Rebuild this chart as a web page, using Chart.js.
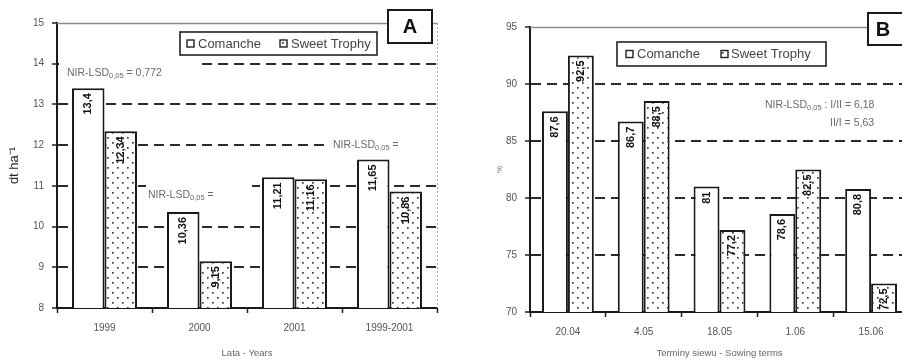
<!DOCTYPE html>
<html>
<head>
<meta charset="utf-8">
<script src="https://cdn.jsdelivr.net/npm/chart.js@4.4.0/dist/chart.umd.min.js"></script>
<style>
  html, body { margin: 0; padding: 0; background: #fff; width: 902px; height: 364px; overflow: hidden; }
  #ca { position: absolute; left: 0; top: 0; }
  #cb { position: absolute; left: 450px; top: 0; }
</style>
</head>
<body>
<canvas id="ca" width="450" height="364"></canvas>
<canvas id="cb" width="460" height="364"></canvas>
<script>
// Series names shared by both panels
const seriesNames = ['Comanche', 'Sweet Trophy'];

// Panel A: yield, dt ha-1, by year
const yearLabels = ['1999', '2000', '2001', '1999-2001'];
const comancheYield = [13.4, 10.36, 11.21, 11.65];
const sweetTrophyYield = [12.34, 9.15, 11.16, 10.86];
const yieldAxis = [8, 15, 1];            // min, max, step

// Panel B: percentage, by sowing term
const sowingLabels = ['20.04', '4.05', '18.05', '1.06', '15.06'];
const comanchePct = [87.6, 86.7, 81, 78.6, 80.8];
const sweetTrophyPct = [92.5, 88.5, 77.2, 82.5, 72.5];
const pctAxis = [70, 95, 5];             // min, max, step

const FONT = '"Liberation Sans", Arial, sans-serif';
Chart.defaults.font.family = FONT;

// Dotted fill for the second series
function dotPattern() {
  const c = document.createElement('canvas');
  c.width = 10; c.height = 10;
  const g = c.getContext('2d');
  g.fillStyle = '#fff';
  g.fillRect(0, 0, 10, 10);
  g.fillStyle = '#3a3a3a';
  g.fillRect(2, 2, 1.7, 1.7);
  g.fillRect(7, 7, 1.7, 1.7);
  return g.createPattern(c, 'repeat');
}

const fmt = v => String(v).replace('.', ',');

function drawNote(ctx, n) {
  let x = n.x;
  ctx.save();
  ctx.fillStyle = '#6a6a6a';
  ctx.textBaseline = 'middle';
  ctx.textAlign = 'left';
  n.parts.forEach(([t, kind]) => {
    if (kind === 's') {
      ctx.font = '7.5px ' + FONT;
      ctx.fillText(t, x, n.y + 3);
    } else {
      ctx.font = '10.5px ' + FONT;
      ctx.fillText(t, x, n.y);
    }
    x += ctx.measureText(t).width;
  });
  ctx.restore();
}

function makeDeco(d) {
  return {
    id: 'panelDeco',
    beforeDatasetsDraw(chart) {
      const ctx = chart.ctx;
      ctx.save();
      ctx.fillStyle = '#fff';
      d.masks.forEach(m => ctx.fillRect(m[0], m[1], m[2], m[3]));
      ctx.restore();
      d.notes.forEach(n => drawNote(ctx, n));
    },
    afterDatasetsDraw(chart) {
      const ctx = chart.ctx;
      chart.data.datasets.forEach((ds, di) => {
        chart.getDatasetMeta(di).data.forEach((bar, i) => {
          ctx.save();
          ctx.translate(bar.x, bar.y + 5);
          ctx.rotate(-Math.PI / 2);
          ctx.font = 'bold 11px ' + FONT;
          ctx.fillStyle = '#111';
          ctx.textAlign = 'right';
          ctx.textBaseline = 'middle';
          ctx.fillText(fmt(ds.data[i]), 0, 0);
          ctx.restore();
        });
      });
    },
    afterDraw(chart) {
      const ctx = chart.ctx;
      const a = chart.chartArea;
      ctx.save();
      // light frame on top (and right side in panel A)
      ctx.strokeStyle = '#8a8a8a';
      ctx.lineWidth = 1.5;
      ctx.beginPath();
      ctx.moveTo(a.left, a.top + 0.5);
      ctx.lineTo(a.right, a.top + 0.5);
      ctx.stroke();
      if (d.rightEdge) {
        ctx.strokeStyle = '#a8a8a8';
        ctx.lineWidth = 1;
        ctx.setLineDash([2, 2]);
        ctx.beginPath();
        ctx.moveTo(a.right + 0.5, a.top);
        ctx.lineTo(a.right + 0.5, a.bottom);
        ctx.stroke();
        ctx.setLineDash([]);
      }
      // panel letter box
      const b = d.letterBox;
      ctx.fillStyle = '#fff';
      ctx.fillRect(b[0], b[1], b[2], b[3]);
      ctx.strokeStyle = '#1a1a1a';
      ctx.lineWidth = 2;
      ctx.strokeRect(b[0], b[1], b[2], b[3]);
      ctx.fillStyle = '#111';
      ctx.font = 'bold 20px ' + FONT;
      ctx.textAlign = 'center';
      ctx.textBaseline = 'middle';
      ctx.fillText(d.letter, d.letterPos[0], d.letterPos[1]);
      // legend
      const L = d.legend;
      ctx.fillStyle = '#fff';
      ctx.fillRect(L.box[0], L.box[1], L.box[2], L.box[3]);
      ctx.strokeStyle = '#222';
      ctx.lineWidth = 1.6;
      ctx.strokeRect(L.box[0], L.box[1], L.box[2], L.box[3]);
      const cy = L.box[1] + L.box[3] / 2;
      chart.data.datasets.forEach((ds, i) => {
        const sx = L.sq[i];
        ctx.fillStyle = ds.backgroundColor;
        ctx.fillRect(sx, cy - 3.5, 7, 7);
        ctx.strokeStyle = '#222';
        ctx.lineWidth = 1.4;
        ctx.strokeRect(sx, cy - 3.5, 7, 7);
        ctx.fillStyle = '#444';
        ctx.font = '13px ' + FONT;
        ctx.textAlign = 'left';
        ctx.textBaseline = 'middle';
        ctx.fillText(ds.label, L.tx[i], cy + 0.5);
      });
      ctx.restore();
    }
  };
}

function buildChart(id, labels, s1, s2, axis, geo, deco) {
  const [yMin, yMax, yStep] = axis;
  return new Chart(document.getElementById(id), {
    type: 'bar',
    data: {
      labels: labels,
      datasets: [
        { label: seriesNames[0], data: s1, backgroundColor: '#ffffff',
          borderColor: '#1a1a1a', borderWidth: 2,
          categoryPercentage: 0.684, barPercentage: 1 },
        { label: seriesNames[1], data: s2, backgroundColor: dotPattern(),
          borderColor: '#1a1a1a', borderWidth: 2,
          categoryPercentage: 0.684, barPercentage: 1 }
      ]
    },
    options: {
      responsive: false,
      animation: false,
      events: [],
      layout: { padding: { left: 0, top: geo.top, right: geo.right, bottom: 0 } },
      plugins: { legend: { display: false }, tooltip: { enabled: false } },
      scales: {
        x: {
          grid: { display: true, drawOnChartArea: false, drawTicks: true, tickLength: 5,
                  color: '#222', tickColor: '#222', tickWidth: 1.5 },
          border: { display: true, color: '#1a1a1a', width: 2 },
          ticks: { color: '#555', font: { size: 10 }, padding: 9, maxRotation: 0, autoSkip: false },
          title: { display: true, text: geo.xTitle, color: '#666', font: { size: 9.5 },
                   padding: { top: 0, bottom: 5 } },
          afterFit: s => { s.height = geo.xH; }
        },
        y: {
          min: yMin, max: yMax,
          ticks: { stepSize: yStep, color: '#555', font: { size: 10 }, padding: 8 },
          grid: {
            color: c => (c.tick && (c.tick.value === yMin || c.tick.value === yMax)) ? 'rgba(0,0,0,0)' : '#2a2a2a',
            lineWidth: 2, drawTicks: true, tickLength: 5, tickColor: '#222', tickWidth: 1.5
          },
          border: { display: true, color: '#1a1a1a', width: 2, dash: [10, 6] },
          title: { display: true, text: geo.yTitle, color: geo.yTitleColor, font: { size: geo.yTitleSize },
                   padding: { top: geo.yTitlePad, bottom: 0 } },
          afterFit: s => { s.width = geo.yW; }
        }
      }
    },
    plugins: [makeDeco(deco)]
  });
}

const lsd = [['NIR-LSD', 'n'], ['0,05', 's']];

buildChart('ca', yearLabels, comancheYield, sweetTrophyYield, yieldAxis,
  { top: 23, right: 13, xH: 56, yW: 57, xTitle: 'Lata - Years', yTitle: 'dt ha\u207B\u00B9',
    yTitleColor: '#222', yTitleSize: 13, yTitlePad: 7 },
  {
    letter: 'A', letterBox: [388, 10, 44, 33], letterPos: [410, 27], rightEdge: true,
    legend: { box: [180, 32, 197, 23], sq: [187, 280], tx: [198, 291] },
    masks: [[59, 56, 141, 26], [328, 137, 109, 16], [146, 179, 106, 24]],
    notes: [
      { x: 67, y: 73, parts: lsd.concat([[' = 0,772', 'n']]) },
      { x: 333, y: 145, parts: lsd.concat([[' =', 'n']]) },
      { x: 148, y: 195, parts: lsd.concat([[' =', 'n']]) }
    ]
  });

buildChart('cb', sowingLabels, comanchePct, sweetTrophyPct, pctAxis,
  { top: 27, right: 1, xH: 52, yW: 80, xTitle: 'Terminy siewu - Sowing terms', yTitle: '%',
    yTitleColor: '#777', yTitleSize: 8, yTitlePad: 45 },
  {
    letter: 'B', letterBox: [418, 13, 60, 32], letterPos: [433, 30], rightEdge: false,
    legend: { box: [167, 42, 209, 24], sq: [176, 271], tx: [187, 281] },
    masks: [],
    notes: [
      { x: 315, y: 105, parts: lsd.concat([[' : I/II = 6,18', 'n']]) },
      { x: 380, y: 123, parts: [['II/I = 5,63', 'n']] }
    ]
  });
</script>
</body>
</html>
